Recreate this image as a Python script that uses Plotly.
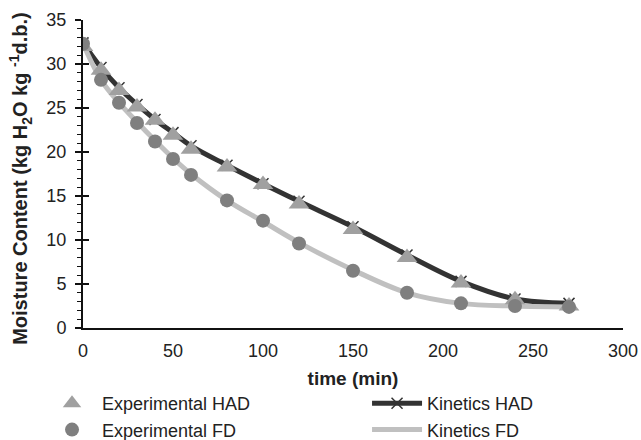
import plotly.graph_objects as go

time = [0, 10, 20, 30, 40, 50, 60, 80, 100, 120, 150, 180, 210, 240, 270]
exp_had = [32.0, 29.3, 27.0, 25.1, 23.6, 21.9, 20.3, 18.3, 16.3, 14.1, 11.2, 8.0, 5.1, 3.2, 2.5]
exp_fd = [32.3, 28.2, 25.6, 23.3, 21.2, 19.2, 17.4, 14.5, 12.2, 9.6, 6.5, 4.0, 2.8, 2.5, 2.4]
kin_had = [32.4, 29.6, 27.3, 25.4, 23.7, 22.2, 20.7, 18.5, 16.4, 14.4, 11.5, 8.3, 5.3, 3.3, 2.8]
kin_fd = [32.3, 28.2, 25.6, 23.4, 21.3, 19.3, 17.5, 14.5, 12.1, 9.7, 6.6, 4.0, 2.8, 2.5, 2.4]

FONT = "Liberation Sans, Arial, sans-serif"

fig = go.Figure()
fig.add_trace(go.Scatter(
    x=time, y=kin_had, name="Kinetics HAD", mode="lines+markers",
    line=dict(color="#333333", width=5, shape="spline"),
    marker=dict(symbol="x-thin", size=11, line=dict(color="#333333", width=1.5)),
    legend="legend2", legendrank=1))
fig.add_trace(go.Scatter(
    x=time, y=kin_fd, name="Kinetics FD", mode="lines",
    line=dict(color="#c0c0c0", width=5, shape="spline"),
    legend="legend2", legendrank=2))
fig.add_trace(go.Scatter(
    x=time, y=exp_had, name="Experimental HAD", mode="markers",
    marker=dict(symbol="triangle-up", size=18, color="#a0a0a0"),
    legend="legend", legendrank=1))
fig.add_trace(go.Scatter(
    x=time, y=exp_fd, name="Experimental FD", mode="markers",
    marker=dict(symbol="circle", size=14, color="#7f7f7f"),
    legend="legend", legendrank=2))

# overlay axis for inside half of crossing major ticks
fig.add_trace(go.Scatter(x=[None], y=[None], yaxis="y2", showlegend=False, hoverinfo="skip"))

leg_common = dict(
    orientation="v", yanchor="top", traceorder="normal",
    font=dict(size=18, color="#222222"), bgcolor="rgba(0,0,0,0)",
    tracegroupgap=0, itemwidth=50,
)

fig.update_layout(
    width=641, height=440,
    margin=dict(l=83, r=18, t=20, b=112, autoexpand=False),
    paper_bgcolor="white", plot_bgcolor="white",
    font=dict(family=FONT, size=18, color="#222222"),
    xaxis=dict(
        range=[0, 300], dtick=50, tick0=0, showgrid=False, zeroline=False,
        showline=True, linecolor="#111111", linewidth=2, ticks="",
        tickfont=dict(size=18), ticklabelstandoff=5,
        title=dict(text="<b>time (min)</b>", font=dict(size=19), standoff=12),
    ),
    yaxis=dict(
        range=[0, 35], dtick=5, tick0=0, showgrid=False, zeroline=False,
        showline=True, linecolor="#111111", linewidth=2,
        ticks="outside", ticklen=6, tickwidth=2, tickcolor="#111111",
        minor=dict(dtick=1, ticks="outside", ticklen=4, tickwidth=1, tickcolor="#111111"),
        tickfont=dict(size=18), ticklabelstandoff=5,
    ),
    yaxis2=dict(
        range=[0, 35], dtick=5, tick0=0, overlaying="y", side="left",
        showgrid=False, zeroline=False, showline=False, showticklabels=False,
        ticks="inside", ticklen=6, tickwidth=2, tickcolor="#111111",
    ),
    annotations=[dict(
        text="<b>Moisture Content (kg H<sub>2</sub>O kg <sup>-1</sup>d.b.)</b>",
        xref="paper", yref="paper", x=-0.115, y=0.484, xanchor="center", yanchor="middle",
        textangle=-90, showarrow=False, font=dict(size=20, color="#222222"),
    )],
    legend=dict(leg_common, x=-0.0759, xanchor="left", y=-0.185),
    legend2=dict(leg_common, x=0.526, xanchor="left", y=-0.185),
    showlegend=True,
)

fig.write_html("out.html")
